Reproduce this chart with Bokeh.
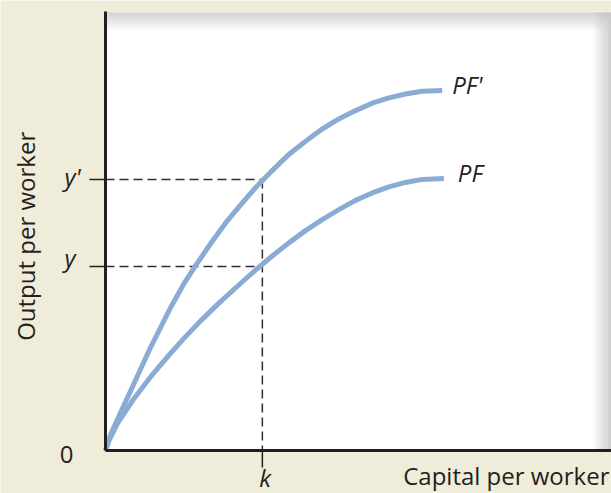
from math import pi
from bokeh.plotting import figure
from bokeh.models import Label, BoxAnnotation, Range1d
from bokeh.embed import file_html
from bokeh.resources import INLINE

# ---- data (axis units 0-100) ----
capital_pf_prime = [0, 0.99, 2.96, 5.59, 8.89, 12.85, 15.5, 17.8, 20.75, 24.1, 27.3, 29.64,
                    32.94, 36.23, 39.53, 42.83, 46.11, 49.41, 52.71, 55.99, 59.29, 62.59, 66.54]
output_pf_prime = [0, 3.6, 8.6, 15.2, 23.5, 32.6, 38.1, 42.2, 47.2, 52.5, 56.9, 60.0,
                   63.9, 67.6, 70.6, 73.4, 75.7, 77.6, 79.3, 80.5, 81.4, 82.0, 82.2]

capital_pf = [0, 0.66, 2.37, 5.53, 8.89, 12.25, 15.5, 18.8, 22.1, 25.3, 28.0, 29.64,
              32.94, 36.23, 39.53, 42.83, 46.11, 49.41, 52.71, 55.99, 59.29, 62.59, 66.86]
output_pf = [0, 2.2, 6.2, 11.7, 16.8, 21.4, 25.6, 29.6, 33.3, 36.7, 39.5, 41.2,
             44.4, 47.4, 50.2, 52.7, 55.0, 57.1, 58.8, 60.2, 61.2, 61.9, 62.1]

k_value = 31.0
y_value = 42.0
y_prime_value = 61.9

curve_labels = ["PF'", "PF"]
y_tick_labels = ["y", "y'"]
x_tick_label = "k"
origin_label = "0"
x_axis_title = "Capital per worker"
y_axis_title = "Output per worker"

# ---- styles / geometry ----
BG = "#f0ecda"
INK = "#231f20"
BLUE = "#8aabd4"
DASH = "#2f2f2f"
FONT = "Open Sans"
FS = "24px"

W, H = 611, 493
LEFT, TOP, BOTTOM = 105, 12, 43          # panel position on the canvas, px
PX_X = (W - LEFT) / 100.0                # px per axis unit
PX_Y = (H - TOP - BOTTOM) / 100.0

p = figure(width=W, height=H,
           x_range=Range1d(-LEFT / PX_X, 100), y_range=Range1d(-BOTTOM / PX_Y, 100 + TOP / PX_Y),
           output_backend="svg", toolbar_location=None,
           x_axis_location=None, y_axis_location=None,
           min_border=0, min_border_left=0, min_border_right=0,
           min_border_top=0, min_border_bottom=0)
p.background_fill_color = BG
p.border_fill_color = BG
p.outline_line_color = None
p.grid.visible = False

# white panel
p.add_layout(BoxAnnotation(left=0, right=100, bottom=0, top=100, fill_color="white",
                           fill_alpha=1, line_color=None, level="underlay"))
# subtle shading along the top and right edges of the panel
for i in range(9):
    a = 0.85 * (1 - i / 9.0)
    p.add_layout(BoxAnnotation(top=100 - 2 * i / PX_Y, bottom=100 - 2 * (i + 1) / PX_Y,
                               left=0, right=100,
                               fill_color="#c9c9cd", fill_alpha=a, line_color=None,
                               level="underlay"))
    p.add_layout(BoxAnnotation(right=100 - 2 * i / PX_X, left=100 - 2 * (i + 1) / PX_X,
                               bottom=0, top=100,
                               fill_color="#c2c2c6", fill_alpha=a, line_color=None,
                               level="underlay"))

# dashed guides
p.segment(x0=[0, 0, k_value], y0=[y_prime_value, y_value, y_prime_value],
          x1=[k_value, k_value, k_value], y1=[y_prime_value, y_value, 0],
          line_color=DASH, line_width=1.5, line_dash="9 5")

# production functions
p.line(capital_pf_prime, output_pf_prime, line_width=5, line_color=BLUE,
       line_join="round", line_cap="butt")
p.line(capital_pf, output_pf, line_width=5, line_color=BLUE,
       line_join="round", line_cap="butt")

# axes lines and tick marks
p.segment(x0=[0, 0], y0=[0, 0], x1=[0, 100], y1=[100 + 1 / PX_Y, 0],
          line_color=INK, line_width=3)
p.segment(x0=[-16 / PX_X, -16 / PX_X, k_value], y0=[y_value, y_prime_value, 0],
          x1=[0, 0, k_value], y1=[y_value, y_prime_value, -17 / PX_Y],
          line_color=INK, line_width=1.5)


def lab(**kw):
    base = dict(text_font=FONT, text_font_size=FS, text_color=INK)
    base.update(kw)
    p.add_layout(Label(**base))


SH = 8  # baseline correction

lab(x=capital_pf_prime[-1], y=output_pf_prime[-1], text=curve_labels[0], x_offset=10,
    y_offset=-2 + SH, text_baseline="alphabetic", text_font_style="italic")
lab(x=capital_pf[-1], y=output_pf[-1], text=curve_labels[1], x_offset=14,
    y_offset=-2 + SH, text_baseline="alphabetic", text_font_style="italic")

lab(x=0, y=y_prime_value, text=y_tick_labels[1], x_offset=-41, y_offset=-5 + SH,
    text_align="left", text_baseline="alphabetic", text_font_style="italic")
lab(x=0, y=y_value, text=y_tick_labels[0], x_offset=-41, y_offset=1 + SH,
    text_align="left", text_baseline="alphabetic", text_font_style="italic")
lab(x=0, y=0, text=origin_label, x_offset=-39, y_offset=-12 + SH,
    text_align="center", text_baseline="alphabetic")
lab(x=k_value, y=0, text=x_tick_label, x_offset=-3, y_offset=-35 + SH,
    text_align="left", text_baseline="alphabetic", text_font_style="italic")

lab(x=100, y=0, text=x_axis_title, x_offset=-2, y_offset=-33 + SH,
    text_align="right", text_baseline="alphabetic")
lab(x=0, y=48.9, text=y_axis_title, x_offset=-72 - SH, angle=pi / 2,
    text_align="center", text_baseline="alphabetic")

html = file_html(p, INLINE)
html = html.replace("<body>", '<body style="background-color:%s;">' % BG, 1)
open("out.html", "w").write(html)
